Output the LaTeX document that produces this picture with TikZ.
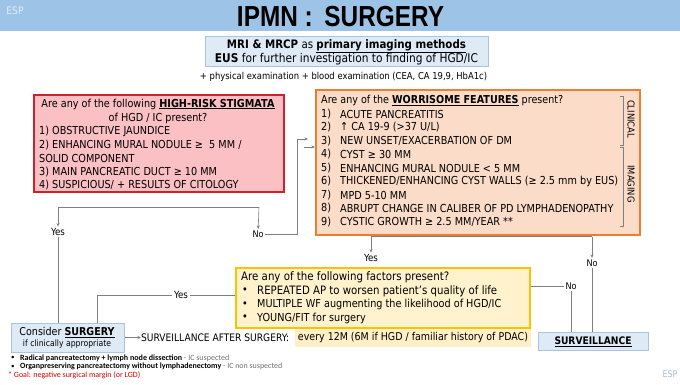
\documentclass[tikz,border=0pt]{standalone}
\usepackage{graphicx}
\usepackage{fontspec}
\setmainfont{DejaVu Sans}[FakeStretch=0.88]
\newfontfamily\titlefont{Liberation Sans}[FakeStretch=0.84]
\newfontfamily\notefont{Carlito}
\usetikzlibrary{arrows.meta}
\definecolor{titlebg}{HTML}{9DC3E6}
\definecolor{bluefill}{HTML}{DEEBF7}
\definecolor{blueline}{HTML}{A9C4E2}
\definecolor{redfill}{HTML}{FAC0C4}
\definecolor{redline}{HTML}{D0202C}
\definecolor{orfill}{HTML}{FBDCC8}
\definecolor{orline}{HTML}{ED7D31}
\definecolor{yefill}{HTML}{FFF2CC}
\definecolor{yeline}{HTML}{FFC000}
\definecolor{hlfill}{HTML}{FFF0C8}
\definecolor{conn}{HTML}{7F7F7F}
\definecolor{notegray}{HTML}{707070}
\definecolor{esp}{HTML}{A8BCD6}
\newcommand\myfs[1]{\fontsize{#1}{#1}\selectfont}
\newcommand\fitto[2]{\resizebox{#1pt}{!}{#2}}
\tikzset{
  line/.style={draw=conn, line width=0.6pt},
  arr/.style={line, -{Stealth[length=3.5pt,width=3pt]}},
  lbl/.style={font=\myfs{8}, inner sep=1.5pt},
  txt/.style={anchor=west, inner sep=0pt, font=\myfs{11}},
  ctxt/.style={anchor=center, inner sep=0pt, font=\myfs{11}},
  boxbase/.style={anchor=north west, inner sep=0pt},
  bluebox/.style={boxbase, draw=blueline, fill=bluefill, line width=0.8pt},
  redbox/.style={boxbase, draw=redline, fill=redfill, line width=1.5pt},
  orbox/.style={boxbase, draw=orline, fill=orfill, line width=1.5pt},
  yebox/.style={boxbase, draw=yeline, fill=yefill, line width=1.5pt},
}
\begin{document}
\begin{tikzpicture}[x=1pt,y=-1pt]
\useasboundingbox (0,0) rectangle (680,384);
\fill[white] (0,0) rectangle (680,384);
% title
\node[boxbase, fill=titlebg, minimum width=680pt, minimum height=31pt] (bar) at (0,0) {};
\node[inner sep=0pt, font=\titlefont\bfseries\myfs{28}] (title) at (340.5,16.5) {\fitto{207}{IPMN :\, SURGERY}};
\node[inner sep=0pt, font=\myfs{7}, text=white!70!titlebg] (esp1) at (15,11) {\fitto{17}{ESP}};
% top box
\node[bluebox, minimum width=283pt, minimum height=30pt] (top) at (205,36) {};
\node[ctxt] (t1) at (346.5,46) {\fitto{239}{\textbf{MRI \& MRCP} as \textbf{\underline{primary imaging methods}}}};
\node[ctxt] (t2) at (346.5,59) {\fitto{263}{\textbf{EUS} for further investigation to finding of HGD/IC}};
\node[ctxt] (pe) at (343.5,77) {\fitto{287}{+ physical examination + blood examination (CEA, CA 19,9, HbA1c)}};
% red box
\node[redbox, minimum width=250pt, minimum height=97pt] (hr) at (33,94) {};
\node[ctxt] (r0) at (158,104) {\fitto{233}{Are any of the following \textbf{\underline{HIGH-RISK STIGMATA}}}};
\node[ctxt] (r1) at (158,118) {of HGD / IC present?};
\node[txt] (r2) at (39,131.5) {1) OBSTRUCTIVE JAUNDICE};
\node[txt] (r3) at (39,145) {2) ENHANCING MURAL NODULE ≥~ 5 MM /};
\node[txt] (r4) at (39,158.5) {SOLID COMPONENT};
\node[txt] (r5) at (39,172) {3) MAIN PANCREATIC DUCT ≥ 10 MM};
\node[txt] (r6) at (39,185.5) {4) SUSPICIOUS/ + RESULTS OF CITOLOGY};
% orange box
\node[orbox, minimum width=324pt, minimum height=145pt] (wf) at (315,89) {};
\node[txt] (w0) at (321,100.5) {\fitto{242}{Are any of the \textbf{\underline{WORRISOME FEATURES}} present?}};
\foreach \n/\t/\y in {1/{ACUTE PANCREATITIS}/114, 2/{↑ CA 19-9 (>37 U/L)}/127.5, 3/{NEW UNSET/EXACERBATION OF DM}/141,
  4/{CYST ≥ 30 MM}/154.5, 5/{ENHANCING MURAL NODULE < 5 MM}/168, 6/{THICKENED/ENHANCING CYST WALLS (≥ 2.5 mm by EUS)}/181.5,
  7/{MPD 5-10 MM}/195, 8/{ABRUPT CHANGE IN CALIBER OF PD LYMPHADENOPATHY}/208.5, 9/{CYSTIC GROWTH ≥ 2.5 MM/YEAR **}/222}{
  \node[txt] (wn\n) at (321,\y) {\n)};
  \node[txt] (wt\n) at (340,\y) {\t};
}
\draw[line] (620,96) -- (623.5,96) -- (623.5,145) -- (620,145);
\draw[line] (620,147) -- (623.5,147) -- (623.5,226) -- (620,226);
\node[inner sep=0pt, rotate=-90, font=\myfs{8}] (clin) at (631,119) {\fitto{38}{CLINICAL}};
\node[inner sep=0pt, rotate=-90, font=\myfs{8}] (imag) at (631,184) {\fitto{37}{IMAGING}};
% yellow box
\node[yebox, minimum width=294pt, minimum height=60pt] (yf) at (235,267) {};
\node[txt] (y0) at (241,277.5) {\fitto{208}{Are any of the following factors present?}};
\node[txt] (yb1) at (242,291) {•};
\node[txt] (yt1) at (257,291) {\fitto{240}{REPEATED AP to worsen patient's quality of life}};
\node[txt] (yb2) at (242,304.5) {•};
\node[txt] (yt2) at (257,304.5) {MULTIPLE WF augmenting the likelihood of HGD/IC};
\node[txt] (yb3) at (242,318) {•};
\node[txt] (yt3) at (257,318) {YOUNG/FIT for surgery};
% surgery box
\node[bluebox, minimum width=113pt, minimum height=29pt] (surg) at (11,323) {};
\node[ctxt] (s1) at (67,332.5) {\fitto{95}{Consider \textbf{\underline{SURGERY}}}};
\node[ctxt] (s2) at (67,344.5) {\fitto{88}{if clinically appropriate}};
% surveillance after surgery
\node[txt] (sas) at (141,337.5) {\fitto{148}{SURVEILLANCE AFTER SURGERY:}};
\node[boxbase, fill=hlfill, minimum width=236pt, minimum height=18pt] (hl) at (295,328.5) {};
\node[ctxt] (hlt) at (413,337.5) {\fitto{230}{every 12M (6M if HGD / familiar history of PDAC)}};
% surveillance box
\node[bluebox, minimum width=110pt, minimum height=18pt] (surv) at (538,332) {};
\node[ctxt] (svt) at (593,341.5) {\fitto{77}{\textbf{\underline{SURVEILLANCE}}}};
% notes
\node[txt, font=\notefont\myfs{7}] (nb1) at (11,358) {•};
\node[txt, font=\notefont\myfs{7}] (nt1) at (20,358) {\fitto{209}{\textbf{Radical pancreatectomy + lymph node dissection} {\color{notegray}- IC suspected}}};
\node[txt, font=\notefont\myfs{7}] (nb2) at (11,366.5) {•};
\node[txt, font=\notefont\myfs{7}] (nt2) at (20,366.5) {\fitto{262}{\textbf{Organpreserving pancreatectomy without lymphadenectomy} {\color{notegray}- IC non suspected}}};
\node[txt, font=\notefont\myfs{7}, text=red!85!black] (nt3) at (8,375) {\fitto{132}{* Goal: negative surgical margin (or LGD)}};
\node[inner sep=0pt, font=\myfs{8}, text=esp] (esp2) at (670,374) {\fitto{15}{ESP}};
% labels
\node[lbl] (yes1) at (58,232) {\fitto{14}{Yes}};
\node[lbl] (no1) at (258,234) {\fitto{11}{No}};
\node[lbl] (yes2) at (371,258) {\fitto{14}{Yes}};
\node[lbl] (no2) at (592,263) {\fitto{11}{No}};
\node[lbl] (no3) at (571,286) {\fitto{11}{No}};
\node[lbl] (yes3) at (181,295) {\fitto{14}{Yes}};
% connectors
\coordinate (f1) at (58,207);
\coordinate (f2) at (259,207);
\draw[line] (f1) -- (f2);
\draw[arr] (f1) -- (yes1);
\draw[arr] (f2) -- (no1);
\coordinate (c1) at (297,234);
\coordinate (c2) at (297,139);
\coordinate (c3) at (308,139);
\coordinate (c4) at (304,147);
\draw[arr] (no1) -- (c1) -- (c2) -- (c3);
\draw[arr] (c4) -- (c4 -| wf.west);
\coordinate (g1) at (371,236.5);
\coordinate (g2) at (592,236.5);
\draw[line] (g1) -- (g2);
\draw[arr] (g1) -- (yes2);
\draw[arr] (g2) -- (no2);
\draw[line] (no2) -- (no2 |- surv.north);
\draw[line] (yf.east |- no3) -- (no3);
\draw[line] (no3) -- (no3 |- surv.north);
\draw[line] (yf.west |- yes3) -- (yes3);
\coordinate (h1) at (97,295);
\draw[line] (yes3) -- (h1) -- (h1 |- surg.north);
\draw[line] (yes1) -- (yes1 |- surg.north);
\draw[arr] (surg.east |- sas) -- (sas);
\end{tikzpicture}
\end{document}
